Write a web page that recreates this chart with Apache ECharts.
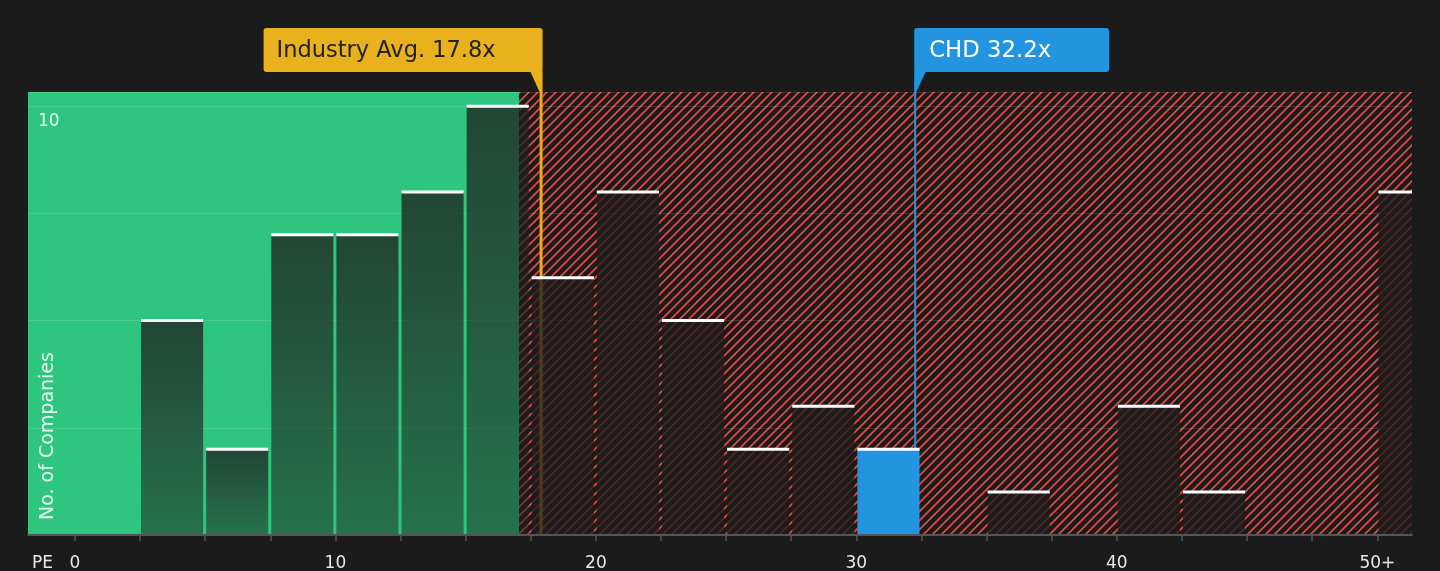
<!DOCTYPE html>
<html>
<head>
<meta charset="utf-8">
<title>PE distribution</title>
<script src="https://cdn.jsdelivr.net/npm/echarts@6/dist/echarts.min.js"></script>
<style>
  html, body { margin: 0; padding: 0; background: #1b1b1b; }
  #chart { width: 1440px; height: 571px; }
</style>
</head>
<body>
<div id="chart"></div>
<script>
// histogram bins (PE), 2.5 wide, last bin is "50+"
const binStarts = [0, 2.5, 5, 7.5, 10, 12.5, 15, 17.5, 20, 22.5, 25, 27.5, 30, 32.5, 35, 37.5, 40, 42.5, 45, 47.5, 50];
const binCounts = [0, 5, 2, 7, 7, 8, 10, 6, 8, 5, 2, 3, 2, 0, 1, 0, 3, 1, 0, 0, 8];
const binWidth = 2.5;

const xTickValues = [0, 2.5, 5, 7.5, 10, 12.5, 15, 17.5, 20, 22.5, 25, 27.5, 30, 32.5, 35, 37.5, 40, 42.5, 45, 47.5, 50];
const xLabelValues = [0, 10, 20, 30, 40, 50];
const xTickLabels = ['0', '10', '20', '30', '40', '50+'];

const industryAvg = 17.8;
const companyPE = 32.2;
const greenEnd = 17.05;
const xMin = -1.8, xMax = 51.33;
const yMax = 10.33;

const markerValues = [industryAvg, companyPE];
const markerLabels = ['Industry Avg. 17.8x', 'CHD 32.2x'];

// hatch pattern for the red zone
const tile = document.createElement('canvas');
tile.width = 9; tile.height = 9;
const tc = tile.getContext('2d');
tc.fillStyle = '#1c1919';
tc.fillRect(0, 0, 9, 9);
tc.strokeStyle = '#d84a4a';
tc.lineWidth = 1.9;
tc.beginPath();
tc.moveTo(0, 9); tc.lineTo(9, 0);
tc.moveTo(-2, 2); tc.lineTo(2, -2);
tc.moveTo(7, 11); tc.lineTo(11, 7);
tc.stroke();

const chart = echarts.init(document.getElementById('chart'));
const font = '"DejaVu Sans", sans-serif';

const barData = binStarts.map((s, i) => [s, s + binWidth, binCounts[i]]);

function renderBar(params, api) {
  const s = api.value(0), e = api.value(1), n = api.value(2);
  if (!n) return null;
  const top = api.coord([s, n]);
  const bottom = api.coord([e, 0]);
  const x0 = top[0] + 1, x1 = bottom[0] - 2;
  const cs = params.coordSys;
  const body = echarts.graphic.clipRectByRect(
    { x: x0, y: top[1], width: x1 - x0, height: bottom[1] - top[1] }, cs);
  const cap = echarts.graphic.clipRectByRect(
    { x: x0, y: top[1] - 1.5, width: x1 - x0, height: 3 }, cs);
  const isCompany = companyPE >= s && companyPE < e;
  let fill;
  if (isCompany) fill = '#2394e0';
  else if (s < greenEnd) fill = new echarts.graphic.LinearGradient(0, 0, 0, 1, [
    { offset: 0, color: 'rgba(30,30,30,0.76)' },
    { offset: 1, color: 'rgba(30,30,30,0.5)' }
  ]);
  else fill = 'rgba(30,27,27,0.76)';
  const children = [];
  if (body) children.push({ type: 'rect', shape: body, style: { fill: fill } });
  if (cap) children.push({ type: 'rect', shape: cap, style: { fill: '#ffffff' } });
  return { type: 'group', children: children };
}

function renderMarker(params, api) {
  const i = params.dataIndex;
  const v = api.value(0);
  const cs = params.coordSys;
  const isAvg = i === 0;
  const x = api.coord([v, 0])[0] + (isAvg ? 2.5 : 1.5);
  const color = isAvg ? '#e9b11b' : '#2394e0';
  const lineColor = isAvg ? '#f2a91e' : '#2394e0';
  const boxW = isAvg ? 279 : 195;
  const boxTop = cs.y - 64, boxBottom = cs.y - 20;
  const lw = isAvg ? 3 : 2;
  let boxX, pointer, textX;
  if (isAvg) {
    boxX = x + 1.5 - boxW;
    pointer = [[x - 11, boxBottom - 1], [x + 1.5, boxBottom - 1], [x + 1.5, cs.y], [x - 1.5, cs.y]];
    textX = boxX + 13;
  } else {
    boxX = x - 1;
    pointer = [[x - 1, boxBottom - 1], [x + 11, boxBottom - 1], [x + 1, cs.y], [x - 1, cs.y]];
    textX = boxX + 15;
  }
  return {
    type: 'group',
    children: [
      { type: 'line', shape: { x1: x, y1: cs.y, x2: x, y2: cs.y + cs.height },
        style: { stroke: lineColor, lineWidth: lw } },
      { type: 'rect', shape: { x: boxX, y: boxTop, width: boxW, height: boxBottom - boxTop, r: 3 },
        style: { fill: color } },
      { type: 'polygon', shape: { points: pointer }, style: { fill: color } },
      { type: 'text', x: textX, y: (boxTop + boxBottom) / 2 + 1,
        style: { text: markerLabels[i], fill: isAvg ? '#222222' : '#ffffff',
          font: (isAvg ? '22.5px ' : '22.8px ') + font, verticalAlign: 'middle', align: 'left' } }
    ]
  };
}

const option = {
  backgroundColor: '#1b1b1b',
  animation: false,
  grid: { left: 28, right: 28, top: 92, bottom: 36, outerBoundsMode: 'none', containLabel: false },
  xAxis: {
    type: 'value',
    min: xMin,
    max: xMax,
    z: 6,
    axisLine: { show: true, lineStyle: { color: '#555555', width: 2 } },
    axisTick: { show: true, customValues: xTickValues, length: 6, lineStyle: { color: '#555555', width: 1.5 } },
    axisLabel: {
      customValues: xLabelValues,
      margin: 20,
      color: '#e8e8e8',
      fontSize: 17,
      fontFamily: font,
      formatter: v => xTickLabels[xLabelValues.indexOf(v)] || ''
    },
    splitLine: { show: false }
  },
  yAxis: {
    type: 'value',
    min: 0,
    max: yMax,
    interval: 2.5,
    z: 3,
    axisLine: { show: false },
    axisTick: { show: false },
    axisLabel: {
      inside: true,
      margin: 10,
      color: 'rgba(255,255,255,0.88)',
      fontSize: 17,
      fontFamily: font,
      verticalAlign: 'top',
      padding: [7, 0, 0, 0],
      formatter: v => (v === 10 ? '10' : '')
    },
    splitLine: { show: true, lineStyle: { color: 'rgba(255,255,255,0.12)', width: 1 } }
  },
  graphic: [
    { type: 'text', left: 32, top: 555, z: 10,
      style: { text: 'PE', fill: '#e8e8e8', font: '17px ' + font } },
    { type: 'text', x: 48, y: 520, rotation: Math.PI / 2, z: 10,
      style: { text: 'No. of Companies', fill: 'rgba(255,255,255,0.88)', font: '19px ' + font,
        align: 'left', verticalAlign: 'middle' } }
  ],
  series: [
    {
      type: 'line',
      data: [],
      z: 1,
      silent: true,
      markArea: {
        silent: true,
        data: [
          [{ xAxis: xMin, itemStyle: { color: '#2ec67e' } }, { xAxis: greenEnd }],
          [{ xAxis: greenEnd, itemStyle: { color: { image: tile, repeat: 'repeat' } } }, { xAxis: xMax }]
        ]
      }
    },
    {
      type: 'custom',
      z: 4,
      silent: true,
      renderItem: renderMarker,
      data: markerValues.map(v => [v, 0])
    },
    {
      type: 'custom',
      z: 5,
      silent: true,
      renderItem: renderBar,
      data: barData
    }
  ]
};

chart.setOption(option);
</script>
</body>
</html>
